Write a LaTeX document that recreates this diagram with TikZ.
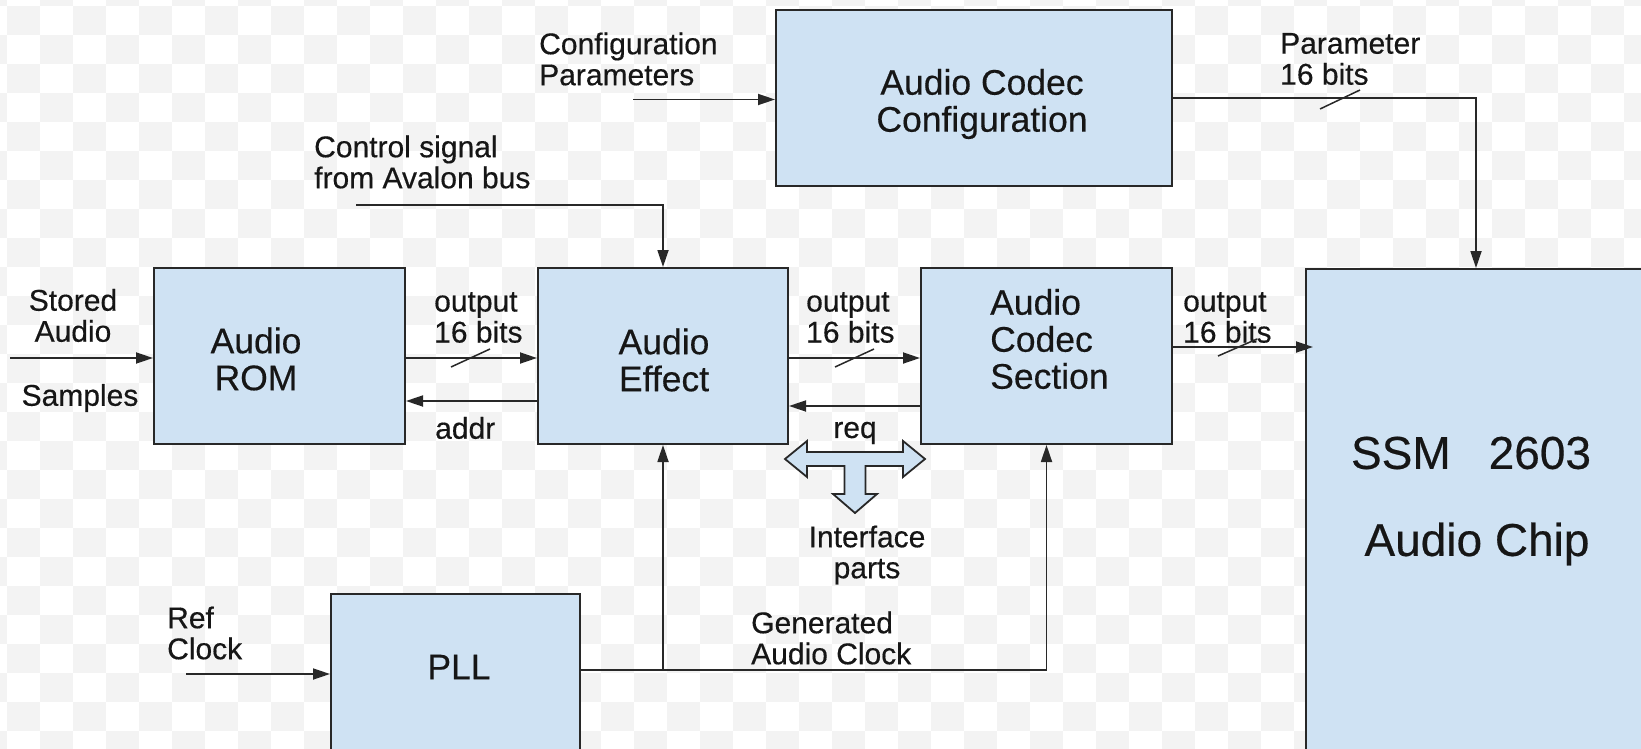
\documentclass[tikz,border=0pt]{standalone}
\usepackage{fontspec}
\setmainfont{Liberation Sans}[FakeBold=0.4]
\usetikzlibrary{arrows.meta}
\definecolor{boxfill}{RGB}{207,226,243}
\definecolor{boxline}{RGB}{40,40,40}
\definecolor{txt}{RGB}{22,22,22}
\definecolor{chk}{RGB}{243,243,243}
\tikzset{
  blk/.style={draw=boxline, fill=boxfill, line width=2pt, inner sep=0pt},
  lbl/.style={text=txt, inner sep=0pt, font=\fontsize{30}{31}\selectfont},
  btxt/.style={text=txt, inner sep=0pt, font=\fontsize{35.5}{37}\selectfont},
  bigtxt/.style={text=txt, inner sep=0pt, font=\fontsize{46}{50}\selectfont},
  arr/.style={draw=boxline, line width=1.8pt, -{Triangle[length=17pt,width=11pt]}},
  slash/.style={draw=boxline, line width=1.5pt},
  tarrow/.style={draw=boxline, fill=boxfill, line width=1.8pt, line join=miter}
}
\begin{document}
\begin{tikzpicture}[x=1pt,y=-1pt]
\useasboundingbox (0,0) rectangle (1641,749);
% checkerboard background
\begin{scope}
\clip (0,0) rectangle (1641,749);
\fill[white] (0,0) rectangle (1641,749);
\foreach \i in {-1,...,49}{
  \foreach \j in {-1,...,25}{
    \pgfmathtruncatemacro{\cpar}{mod(\i+\j+4,2)}
    \ifnum\cpar=0 \fill[chk] (7+33*\i,6+29*\j) rectangle ++(33,29);\fi
  }
}
\end{scope}

% blocks
\node[blk, minimum width=251pt, minimum height=176pt] (rom) at (279.5,356) {};
\node[blk, minimum width=250pt, minimum height=176pt] (eff) at (663,356) {};
\node[blk, minimum width=251pt, minimum height=176pt] (codec) at (1046.5,356) {};
\node[blk, minimum width=396pt, minimum height=176pt] (cfg) at (974,98) {};
\node[blk, minimum width=345pt, minimum height=500pt, anchor=north west] (ssm) at (1305,268) {};
\node[blk, minimum width=249pt, minimum height=177pt, anchor=north west] (pll) at (330,593) {};

% block texts
\node[btxt, align=center] (romt) at (256,359) {Audio\\ROM};
\node[btxt, align=center] (efft) at (664,360) {Audio\\Effect};
\node[btxt, align=left, anchor=west] (codect) at (990,339) {Audio\\Codec\\Section};
\node[btxt, align=center] (cfgt) at (982,104) {Audio Codec\\Configuration};
\node[btxt] (pllt) at (459,667) {PLL};
\node[bigtxt] (ssmt1) at (1471,453) {SSM\hspace{38pt}2603};
\node[bigtxt] (ssmt2) at (1477,544) {Audio Chip};

% labels
\node[lbl, align=center] (sa) at (73,315.5) {Stored\\Audio};
\node[lbl] (samp) at (80,398) {Samples};
\node[lbl, align=left, anchor=west] (o1) at (434,317.5) {output\\16 bits};
\node[lbl, anchor=west] (addr) at (435,428) {addr};
\node[lbl, align=left, anchor=west] (ctlt) at (314,162) {Control signal\\from Avalon bus};
\node[lbl, align=left, anchor=west] (cpt) at (539,59) {Configuration\\Parameters};
\node[lbl, align=left, anchor=west] (pt) at (1280,59) {Parameter\\16 bits};
\node[lbl, align=left, anchor=west] (o2) at (806,317.5) {output\\16 bits};
\node[lbl] (req) at (855,433) {req};
\node[lbl, align=center] (ifp) at (867,555) {Interface\\parts};
\node[lbl, align=left, anchor=west] (o3) at (1183,317.5) {output\\16 bits};
\node[lbl, align=left, anchor=west] (gac) at (751,638) {Generated\\Audio Clock};
\node[lbl, align=left, anchor=west] (rc) at (167,633) {Ref\\Clock};

% free ends
\coordinate (sain) at (10,358);
\coordinate (ctl) at (356,205);
\coordinate (cfgin) at (633,99.5);
\coordinate (refin) at (186,674);
\coordinate (ssmtop) at ([xshift=171pt]ssm.north west);
\coordinate (ssmside) at ([xshift=8pt,yshift=-79pt]ssm.north west);
\coordinate (pllout) at ([yshift=-77pt]pll.north east);

% connectors
\draw[arr] (sain) -- (sain -| rom.west);
\draw[arr] ([yshift=-2pt]rom.east) -- ([yshift=-2pt]eff.west);
\draw[arr] ([yshift=-45pt]eff.west) -- ([yshift=-45pt]rom.east);
\draw[arr] (ctl) -| (eff.north);
\draw[arr] (cfgin) -- (cfgin -| cfg.west);
\draw[arr] (cfg.east) -| (ssmtop);
\draw[arr] ([yshift=-2pt]eff.east) -- ([yshift=-2pt]codec.west);
\draw[arr] ([yshift=-50pt]codec.west) -- ([yshift=-50pt]eff.east);
\draw[arr] ([yshift=9pt]codec.east) -- (ssmside);
\draw[arr] (pllout) -| (codec.south);
\draw[arr] (eff.south |- pllout) -- (eff.south);
\draw[arr] (refin) -- (refin -| pll.west);

% bus slashes
\draw[slash] (451,367) -- (490,349);
\draw[slash] (835,367) -- (874,349);
\draw[slash] (1218,356) -- (1257,339);
\draw[slash] (1320,109) -- (1360,90);

% interface symbol
\draw[tarrow] (785,459) -- (807,441) -- (807,452) -- (903,452) -- (903,441) -- (925,459)
  -- (903,477) -- (903,466) -- (865.5,466) -- (865.5,494) -- (877,494) -- (855,513)
  -- (833,494) -- (844.5,494) -- (844.5,466) -- (807,466) -- (807,477) -- cycle;
\end{tikzpicture}
\end{document}
